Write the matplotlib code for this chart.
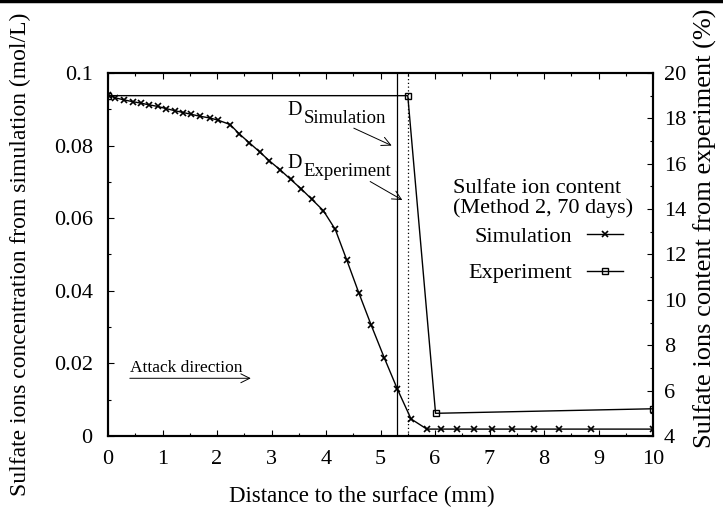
import matplotlib
matplotlib.use("Agg")
import matplotlib.pyplot as plt
from matplotlib.lines import Line2D
from matplotlib.ticker import MultipleLocator

plt.rcParams["font.family"] = ["Liberation Serif", "DejaVu Serif"]
plt.rcParams["font.size"] = 16

# Simulation: distance (mm) vs sulfate concentration (mol/L), left axis
sim_x = [0.0, 0.12, 0.29, 0.45, 0.60, 0.76, 0.91, 1.06, 1.23, 1.38, 1.53, 1.68,
         1.87, 2.02, 2.24, 2.41, 2.59, 2.78, 2.96, 3.16, 3.35, 3.55, 3.74, 3.95,
         4.17, 4.38, 4.60, 4.83, 5.07, 5.31, 5.56, 5.85, 6.11, 6.41, 6.72, 7.05,
         7.41, 7.82, 8.28, 8.86, 10.0]
sim_y = [0.0940, 0.0932, 0.0926, 0.0921, 0.0917, 0.0912, 0.0908, 0.0902, 0.0896,
         0.0891, 0.0886, 0.0881, 0.0876, 0.0870, 0.0858, 0.0832, 0.0808, 0.0783,
         0.0758, 0.0733, 0.0707, 0.0680, 0.0652, 0.0621, 0.0569, 0.0485, 0.0395,
         0.0305, 0.0215, 0.0129, 0.0047, 0.0019, 0.0019, 0.0019, 0.0019, 0.0019,
         0.0019, 0.0019, 0.0019, 0.0019, 0.0019]

# Experiment: distance (mm) vs sulfate content (%), right axis
exp_x = [0.0, 5.50, 6.01, 10.0]
exp_y = [19.0, 19.0, 5.0, 5.2]

d_simulation = 5.31
d_experiment = 5.51

fig = plt.figure(figsize=(7.23, 5.15), dpi=100)
ax = fig.add_axes([0.1494, 0.1534, 0.7538, 0.7049])
ax2 = ax.twinx()

l1, = ax.plot(sim_x, sim_y, color="black", lw=1.0, marker="x", ms=5, mew=1.2,
              label="Simulation")
l2, = ax2.plot(exp_x, exp_y, color="black", lw=1.0, marker="s", ms=4.5,
               mfc="none", mew=1.0, label="Experiment")

ax.axvline(d_simulation, color="black", lw=0.9)
ax.axvline(d_experiment, color="black", lw=0.9, ls=(0, (1, 2)))

ax.set_xlim(0, 10)
ax.set_ylim(0, 0.1)
ax2.set_ylim(4, 20)

ax.xaxis.set_major_locator(MultipleLocator(1))
ax.xaxis.set_minor_locator(MultipleLocator(0.5))
ax.yaxis.set_minor_locator(MultipleLocator(0.01))
ax2.yaxis.set_major_locator(MultipleLocator(2))
ax2.yaxis.set_minor_locator(MultipleLocator(1))
ax.set_yticks([0, 0.02, 0.04, 0.06, 0.08, 0.1])
ax.set_yticklabels(["0", "0.02", "0.04", "0.06", "0.08", "0.1"])

ax.tick_params(which="both", direction="in", top=True, right=False, width=0.8)
ax.tick_params(which="major", length=4)
ax.tick_params(which="minor", length=2)
ax.tick_params(axis="x", pad=10)
ax.tick_params(axis="y", pad=11)
ax2.tick_params(which="both", direction="in", width=0.8)
ax2.tick_params(which="major", length=4, pad=8)
ax2.tick_params(which="minor", length=2)
for a in (ax, ax2):
    for s in a.spines.values():
        s.set_linewidth(1.5)

ax.set_xlabel("Distance to the surface (mm)", fontsize=16.5)
ax.xaxis.set_label_coords(0.465, -0.138)
ax.set_ylabel("Sulfate ions concentration from simulation (mol/L)",
              fontsize=17, labelpad=16)
ax2.set_ylabel("Sulfate ions content from experiment (%)", fontsize=19)
ax2.yaxis.set_label_coords(1.075, 0.572)

# D labels: letter plus same-size lowered subscript
for ypos, sub in [(0.0884, "Simulation"), (0.0737, "Experiment")]:
    ax.text(3.30, ypos, "D", fontsize=14.5, va="baseline")
    ax.annotate(sub, xy=(3.30, ypos), xytext=(11.5, -5.5),
                textcoords="offset points", fontsize=13.5, va="baseline")
arrow = dict(arrowstyle="->", color="black", lw=0.7, shrinkA=0, shrinkB=0)
ax.annotate("", xy=(5.205, 0.0800), xytext=(4.51, 0.0848), arrowprops=arrow)
ax.annotate("", xy=(5.40, 0.0650), xytext=(4.81, 0.0701), arrowprops=arrow)

ax.text(0.40, 0.0176, "Attack direction", fontsize=12.5, va="baseline")
ax.annotate("", xy=(2.62, 0.0159), xytext=(0.40, 0.0159), arrowprops=arrow)

ax.text(0.633, 0.708, "Sulfate ion content\n(Method 2, 70 days)",
        transform=ax.transAxes, va="top", ha="left", linespacing=1.0)
ax.legend([l1, l2], ["Simulation", "Experiment"],
          loc="center right", bbox_to_anchor=(0.945, 0.499), frameon=False,
          markerfirst=False, handlelength=1.6, labelspacing=0.72,
          fontsize=16, borderpad=0, borderaxespad=0, handletextpad=0.7)

fig.add_artist(Line2D([0, 1], [0.998, 0.998], color="black", lw=2.5,
                      transform=fig.transFigure))

fig.savefig("out.png", dpi=100)
